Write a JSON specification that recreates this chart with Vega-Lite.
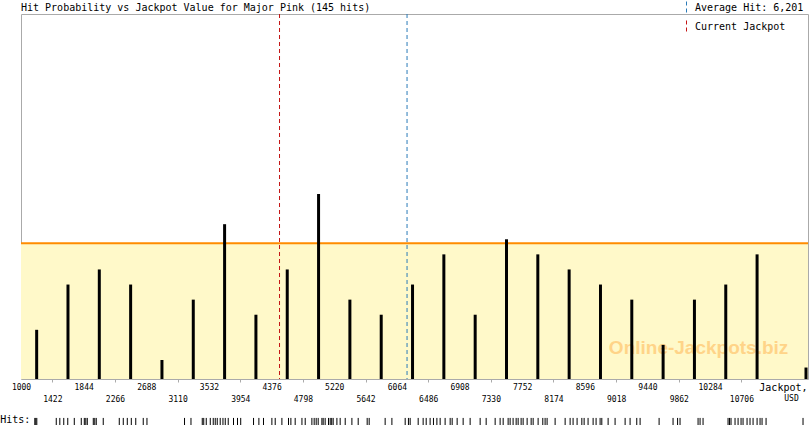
{
  "$schema": "https://vega.github.io/schema/vega-lite/v6.json",
  "width": 787,
  "height": 365,
  "autosize": {"type": "none"},
  "padding": {"left": 21, "top": 14, "right": 2, "bottom": 46},
  "background": "white",
  "title": {
    "text": "Hit Probability vs Jackpot Value for Major Pink (145 hits)",
    "anchor": "start",
    "frame": "group",
    "font": "DejaVu Sans Mono",
    "fontSize": 10,
    "fontWeight": "normal",
    "color": "black",
    "baseline": "middle",
    "offset": -17
  },
  "config": {
    "view": {"stroke": "#aaaaaa", "strokeWidth": 1},
    "font": "DejaVu Sans Mono"
  },
  "datasets": {
    "bins": [
      {"jackpot": 1211, "hits": 3},
      {"jackpot": 1633, "hits": 6},
      {"jackpot": 2055, "hits": 7},
      {"jackpot": 2477, "hits": 6},
      {"jackpot": 2899, "hits": 1},
      {"jackpot": 3321, "hits": 5},
      {"jackpot": 3743, "hits": 10},
      {"jackpot": 4165, "hits": 4},
      {"jackpot": 4587, "hits": 7},
      {"jackpot": 5009, "hits": 12},
      {"jackpot": 5431, "hits": 5},
      {"jackpot": 5853, "hits": 4},
      {"jackpot": 6275, "hits": 6},
      {"jackpot": 6697, "hits": 8},
      {"jackpot": 7119, "hits": 4},
      {"jackpot": 7541, "hits": 9},
      {"jackpot": 7963, "hits": 8},
      {"jackpot": 8385, "hits": 7},
      {"jackpot": 8807, "hits": 6},
      {"jackpot": 9229, "hits": 5},
      {"jackpot": 9651, "hits": 2},
      {"jackpot": 10073, "hits": 5},
      {"jackpot": 10495, "hits": 6},
      {"jackpot": 10917, "hits": 8},
      {"jackpot": 11576, "hits": 0.5}
    ],
    "expected": [{"hits": 8.73}],
    "markers": [
      {"label": "Average Hit: 6,201", "value": 6201},
      {"label": "Current Jackpot", "value": 4483}
    ],
    "hitlist": [
      {"value": 1186}, {"value": 1199}, {"value": 1213},
      {"value": 1475}, {"value": 1523}, {"value": 1576}, {"value": 1630}, {"value": 1718}, {"value": 1812},
      {"value": 1853}, {"value": 1873}, {"value": 1893}, {"value": 1974}, {"value": 1994}, {"value": 2014}, {"value": 2108},
      {"value": 2324}, {"value": 2378}, {"value": 2432}, {"value": 2486}, {"value": 2546}, {"value": 2647},
      {"value": 2697},
      {"value": 3203}, {"value": 3290}, {"value": 3442}, {"value": 3462}, {"value": 3496},
      {"value": 3550}, {"value": 3590}, {"value": 3617}, {"value": 3644}, {"value": 3684}, {"value": 3721}, {"value": 3752}, {"value": 3792}, {"value": 3863}, {"value": 3917},
      {"value": 3960}, {"value": 4133}, {"value": 4205}, {"value": 4267},
      {"value": 4380}, {"value": 4425}, {"value": 4515}, {"value": 4604}, {"value": 4636}, {"value": 4694}, {"value": 4785},
      {"value": 4829}, {"value": 4919}, {"value": 4950}, {"value": 4977}, {"value": 5004}, {"value": 5054}, {"value": 5071}, {"value": 5098}, {"value": 5143}, {"value": 5166}, {"value": 5186}, {"value": 5206},
      {"value": 5256}, {"value": 5300}, {"value": 5368}, {"value": 5458}, {"value": 5543},
      {"value": 5664}, {"value": 5691}, {"value": 5906}, {"value": 5997},
      {"value": 6176}, {"value": 6220}, {"value": 6243}, {"value": 6351}, {"value": 6418}, {"value": 6459},
      {"value": 6512}, {"value": 6557}, {"value": 6603}, {"value": 6647}, {"value": 6714}, {"value": 6782}, {"value": 6809}, {"value": 6876},
      {"value": 6957}, {"value": 7051}, {"value": 7186}, {"value": 7267},
      {"value": 7388}, {"value": 7455}, {"value": 7496}, {"value": 7563}, {"value": 7590}, {"value": 7630}, {"value": 7671}, {"value": 7698}, {"value": 7738},
      {"value": 7765}, {"value": 7819}, {"value": 7873}, {"value": 7900}, {"value": 7967}, {"value": 8030}, {"value": 8061}, {"value": 8088},
      {"value": 8196}, {"value": 8331}, {"value": 8398}, {"value": 8438}, {"value": 8492}, {"value": 8556}, {"value": 8587},
      {"value": 8640}, {"value": 8708}, {"value": 8748}, {"value": 8802}, {"value": 8825}, {"value": 8910},
      {"value": 9004}, {"value": 9139}, {"value": 9206}, {"value": 9296}, {"value": 9341},
      {"value": 9597}, {"value": 9785},
      {"value": 9846}, {"value": 9879}, {"value": 10122}, {"value": 10149}, {"value": 10189},
      {"value": 10526}, {"value": 10546}, {"value": 10566}, {"value": 10620}, {"value": 10661}, {"value": 10701},
      {"value": 10728}, {"value": 10782}, {"value": 10822}, {"value": 10863}, {"value": 10917}, {"value": 10957}, {"value": 10984}, {"value": 11038},
      {"value": 11536}
    ]
  },
  "resolve": {"axis": {"x": "independent"}},
  "layer": [
    {
      "data": {"name": "expected"},
      "mark": {"type": "rect", "color": "#fff9c9"},
      "encoding": {
        "x": {"datum": 1000, "type": "quantitative", "scale": {"domain": [1000, 11603], "nice": false, "zero": false}, "axis": null},
        "x2": {"datum": 11603},
        "y": {"field": "hits", "type": "quantitative", "scale": {"domain": [-0.26, 23.93], "nice": false, "zero": false}, "axis": null},
        "y2": {"datum": -0.26}
      }
    },
    {
      "data": {"name": "expected"},
      "mark": {"type": "rule", "color": "#ff8c00", "strokeWidth": 2},
      "encoding": {
        "y": {"field": "hits", "type": "quantitative", "axis": null}
      }
    },
    {
      "data": {"values": [{}]},
      "mark": {"type": "text", "font": "Liberation Sans", "fontWeight": "bold", "fontSize": 19, "color": "#ffd488", "align": "center", "baseline": "middle"},
      "encoding": {
        "x": {"datum": 10129, "type": "quantitative", "axis": null},
        "y": {"datum": 1.8, "type": "quantitative", "axis": null},
        "text": {"value": "Online-Jackpots.biz"}
      }
    },
    {
      "data": {"name": "bins"},
      "mark": {"type": "rule", "color": "black", "strokeWidth": 3},
      "encoding": {
        "x": {
          "field": "jackpot", "type": "quantitative",
          "axis": {
            "orient": "bottom",
            "values": [1000, 1844, 2688, 3532, 4376, 5220, 6064, 6908, 7752, 8596, 9440, 10284],
            "format": "d", "domain": false, "ticks": false, "tickSize": 0, "grid": false,
            "labelPadding": 4, "labelFont": "DejaVu Sans Mono", "labelFontSize": 8, "labelColor": "black",
            "labelOverlap": false, "labelFlush": false, "labelBound": false,
            "title": "Jackpot,", "titleFont": "DejaVu Sans Mono", "titleFontSize": 10, "titleFontWeight": "normal", "titleColor": "black",
            "titleX": 786, "titleY": 8, "titleAlign": "right", "titleBaseline": "middle", "titleAnchor": null
          }
        },
        "y": {"field": "hits", "type": "quantitative", "axis": null},
        "y2": {"datum": -0.26}
      }
    },
    {
      "data": {"name": "markers"},
      "mark": {"type": "rule", "strokeWidth": 1, "strokeDash": [4, 3]},
      "encoding": {
        "x": {"field": "value", "type": "quantitative", "axis": null},
        "color": {
          "field": "label", "type": "nominal",
          "scale": {"domain": ["Average Hit: 6,201", "Current Jackpot"], "range": ["#2a7ab8", "#c41414"]},
          "legend": {
            "orient": "none", "legendX": 658.5, "legendY": -13, "title": null,
            "symbolType": "M0,-1L0,1", "symbolSize": 169, "symbolStrokeWidth": 1, "symbolDash": [4, 3],
            "labelFont": "DejaVu Sans Mono", "labelFontSize": 10, "labelColor": "black", "labelOffset": 1.5,
            "rowPadding": 1, "padding": 0
          }
        }
      }
    },
    {
      "data": {"name": "hitlist"},
      "mark": {"type": "rule", "color": "black", "strokeWidth": 1},
      "encoding": {
        "x": {
          "field": "value", "type": "quantitative",
          "axis": {
            "orient": "bottom",
            "values": [1422, 2266, 3110, 3954, 4798, 5642, 6486, 7330, 8174, 9018, 9862, 10706],
            "format": "d", "domain": false, "ticks": true, "tickSize": 3, "tickColor": "#aaaaaa", "grid": false,
            "labelPadding": 13, "labelFont": "DejaVu Sans Mono", "labelFontSize": 8, "labelColor": "black",
            "labelOverlap": false, "labelFlush": false, "labelBound": false,
            "title": "USD", "titleFont": "DejaVu Sans Mono", "titleFontSize": 8, "titleFontWeight": "normal", "titleColor": "black",
            "titleX": 770, "titleY": 19.5, "titleAlign": "center", "titleBaseline": "middle", "titleAnchor": null
          }
        },
        "y": {"datum": -2.84, "type": "quantitative", "axis": null},
        "y2": {"datum": -3.31}
      }
    },
    {
      "data": {"values": [{}]},
      "mark": {"type": "text", "font": "DejaVu Sans Mono", "fontSize": 10, "color": "black", "align": "left", "baseline": "middle"},
      "encoding": {
        "x": {"datum": 721, "type": "quantitative", "axis": null},
        "y": {"datum": -3.0, "type": "quantitative", "axis": null},
        "text": {"value": "Hits:"}
      }
    }
  ]
}
